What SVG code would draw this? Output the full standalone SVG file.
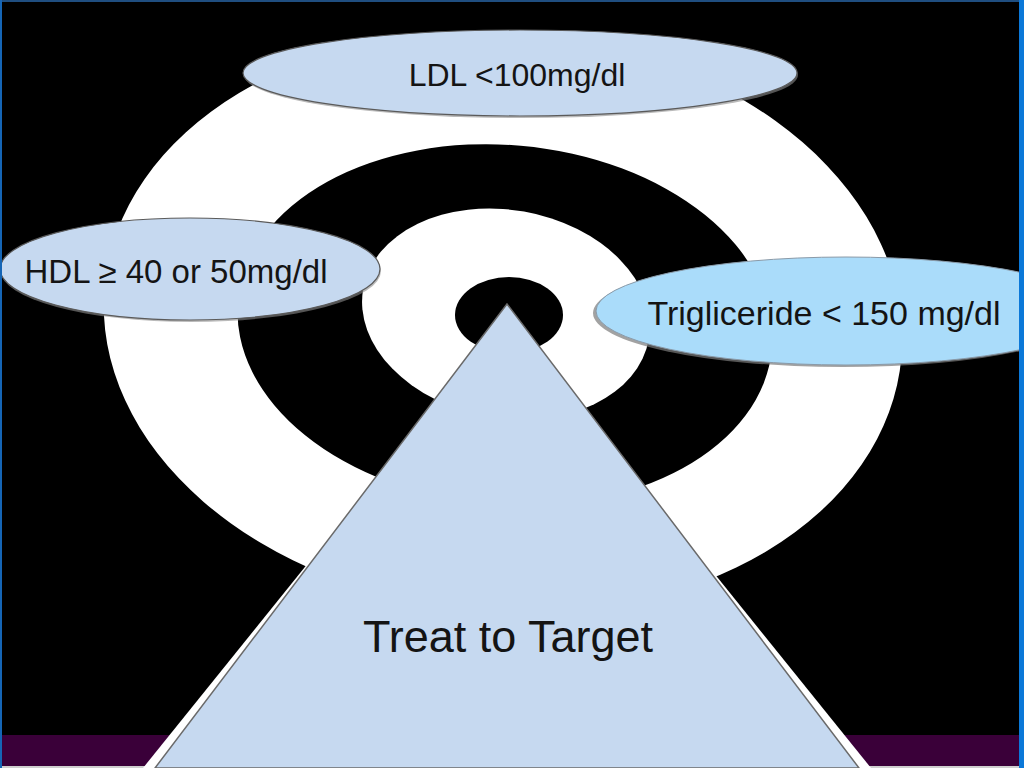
<svg xmlns="http://www.w3.org/2000/svg" width="1024" height="768" viewBox="0 0 1024 768">
<style>
.lbl{font-family:"Liberation Sans",Arial,sans-serif;fill:#141414;text-anchor:middle}
.pale{fill:#c6d9f0;stroke:#5a5a5a;stroke-width:1.2}
.sky{fill:#aadcfa;stroke:#8a9aa8;stroke-width:1}
.ring-w{fill:#ffffff}
.ring-b{fill:#000000}
</style>
<rect x="0" y="0" width="1024" height="768" fill="#000"/>
<rect x="0" y="735" width="1024" height="31" fill="#3a0039"/>
<rect x="0" y="766" width="1024" height="2" fill="#cfcfcf"/>
<g id="target">
  <ellipse class="ring-w" cx="503" cy="322" rx="400" ry="290" transform="rotate(5 503 322)"/>
  <ellipse class="ring-b" cx="505" cy="325" rx="268" ry="180" transform="rotate(5 505 325)"/>
  <ellipse class="ring-w" cx="506" cy="314" rx="145" ry="104" transform="rotate(10 506 314)"/>
  <ellipse class="ring-b" cx="509" cy="315" rx="54" ry="38"/>
</g>
<g id="connectors"/>
<g id="node-treat">
  <polygon points="507,316 143,768 871,768" fill="#ffffff"/>
  <polygon points="507,304 155,768 859,768" fill="#c6d9f0" stroke="#6a6a6a" stroke-width="1.5"/>
  <text class="lbl" x="508" y="652" font-size="45">Treat to Target</text>
</g>
<g id="node-ldl">
  <ellipse cx="521" cy="75" rx="277" ry="43" fill="#8c8c8c" opacity="0.6"/>
  <ellipse class="pale" cx="520" cy="73" rx="277" ry="43"/>
  <text class="lbl" x="517" y="86" font-size="32">LDL &lt;100mg/dl</text>
</g>
<g id="node-hdl">
  <ellipse cx="191" cy="271" rx="190" ry="51" fill="#8c8c8c" opacity="0.6"/>
  <ellipse class="pale" cx="190" cy="269" rx="190" ry="51"/>
  <text class="lbl" x="176" y="283" font-size="33">HDL ≥ 40 or 50mg/dl</text>
</g>
<g id="node-tg">
  <ellipse cx="843" cy="313" rx="250" ry="54" fill="#7a7a7a" opacity="0.7"/>
  <ellipse class="sky" cx="846" cy="311" rx="250" ry="54"/>
  <text class="lbl" x="824" y="325" font-size="34">Trigliceride &lt; 150 mg/dl</text>
</g>
<rect x="0" y="0" width="1024" height="2" fill="#1f4e80"/>
<rect x="0" y="0" width="2" height="768" fill="#1565b5"/>
<rect x="1019" y="0" width="5" height="768" fill="#0b78d8"/>
</svg>
